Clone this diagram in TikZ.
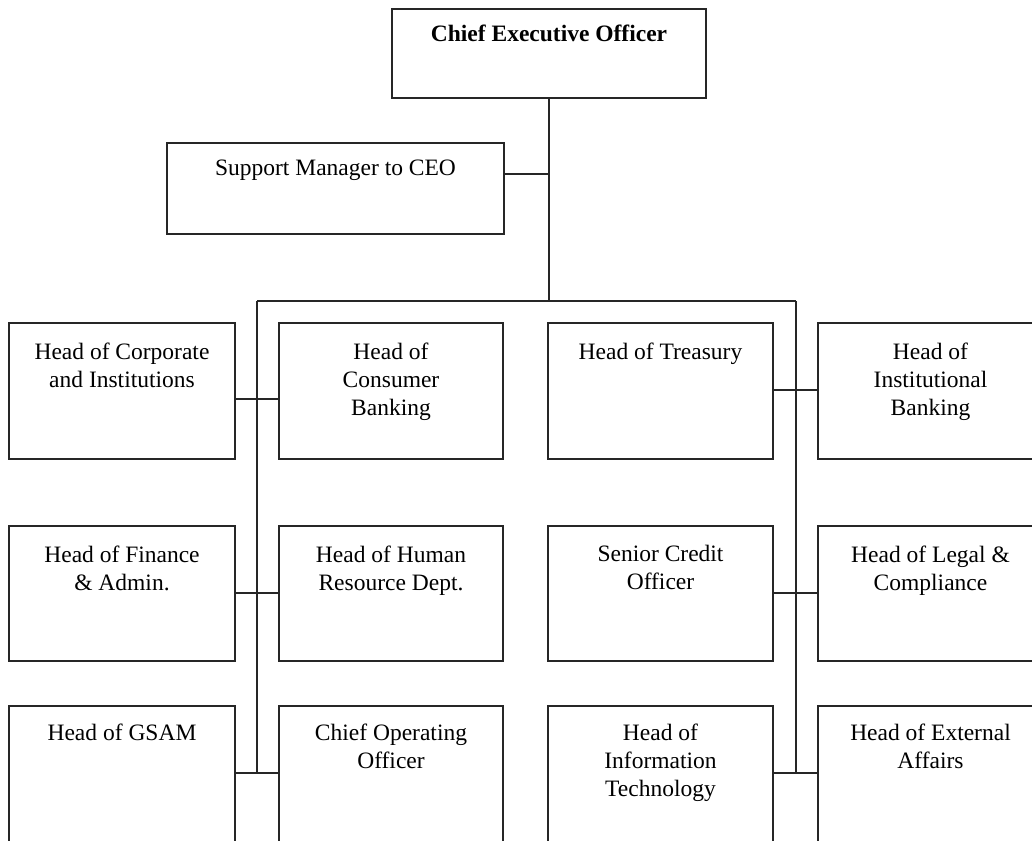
\documentclass[tikz,border=0pt]{standalone}
\usepackage{fontspec}
\setmainfont{Liberation Serif}
\begin{document}
\begin{tikzpicture}[x=1pt,y=-1pt,
  box/.style={draw=black!85, line width=1.4pt, rectangle, inner sep=0pt, fill=white},
  lbl/.style={anchor=north, inner sep=0pt, align=center, font=\fontsize{23.5}{28}\selectfont},
  conn/.style={draw=black!85, line width=1.4pt}]
\useasboundingbox (0,0) rectangle (1032,840);
\clip (0,0) rectangle (1032,840);
\fill[white] (0,0) rectangle (1032,840);

% top boxes
\node[box, minimum width=314pt, minimum height=89pt] (ceo) at (549,53.5) {};
\node[lbl, font=\fontsize{23.5}{28}\selectfont\bfseries] (ceot) at ([yshift=-16pt]ceo.north) {Chief Executive Officer};
\node[box, minimum width=337pt, minimum height=91pt] (sup) at (335.5,188.5) {};
\node[lbl] (supt) at ([yshift=-17pt]sup.north) {Support Manager to CEO};

% row 1
\node[box, minimum width=226pt, minimum height=136pt] (b11) at (122,391) {};
\node[box, minimum width=224pt, minimum height=136pt] (b12) at (391,391) {};
\node[box, minimum width=225pt, minimum height=136pt] (b13) at (660.5,391) {};
\node[box, minimum width=225pt, minimum height=136pt] (b14) at (930.5,391) {};
\node[lbl] (t11) at ([yshift=-20pt]b11.north) {Head of Corporate\\and Institutions};
\node[lbl] (t12) at ([yshift=-20pt]b12.north) {Head of\\Consumer\\Banking};
\node[lbl] (t13) at ([yshift=-20pt]b13.north) {Head of Treasury};
\node[lbl] (t14) at ([yshift=-20pt]b14.north) {Head of\\Institutional\\Banking};

% row 2
\node[box, minimum width=226pt, minimum height=135pt] (b21) at (122,593.5) {};
\node[box, minimum width=224pt, minimum height=135pt] (b22) at (391,593.5) {};
\node[box, minimum width=225pt, minimum height=135pt] (b23) at (660.5,593.5) {};
\node[box, minimum width=225pt, minimum height=135pt] (b24) at (930.5,593.5) {};
\node[lbl] (t21) at ([yshift=-20pt]b21.north) {Head of Finance\\\& Admin.};
\node[lbl] (t22) at ([yshift=-20pt]b22.north) {Head of Human\\Resource Dept.};
\node[lbl] (t23) at ([yshift=-20pt]b23.north) {Senior Credit\\Officer};
\node[lbl] (t24) at ([yshift=-20pt]b24.north) {Head of Legal \&\\Compliance};

% row 3 (runs past the lower edge)
\node[box, minimum width=226pt, minimum height=150pt] (b31) at (122,781) {};
\node[box, minimum width=224pt, minimum height=150pt] (b32) at (391,781) {};
\node[box, minimum width=225pt, minimum height=150pt] (b33) at (660.5,781) {};
\node[box, minimum width=225pt, minimum height=150pt] (b34) at (930.5,781) {};
\node[lbl] (t31) at ([yshift=-18pt]b31.north) {Head of GSAM};
\node[lbl] (t32) at ([yshift=-18pt]b32.north) {Chief Operating\\Officer};
\node[lbl] (t33) at ([yshift=-18pt]b33.north) {Head of\\Information\\Technology};
\node[lbl] (t34) at ([yshift=-18pt]b34.north) {Head of External\\Affairs};

% bus coordinates
\coordinate (busL) at (257,301);
\coordinate (busR) at (796,301);
\coordinate (r1L) at (257,399);
\coordinate (r1R) at (796,390);
\coordinate (r2) at (257,593);
\coordinate (endL) at (257,773);
\coordinate (endR) at (796,773);
\coordinate (supJ) at (549,174);

% connectors
\draw[conn] (ceo.south) -- (ceo.south |- busL);
\draw[conn] (sup.east |- supJ) -- (supJ);
\draw[conn] (busL) -- (busR);
\draw[conn] (busL) -- (endL);
\draw[conn] (busR) -- (endR);

\draw[conn] (b11.east |- r1L) -- (b12.west |- r1L);
\draw[conn] (b13.east |- r1R) -- (b14.west |- r1R);
\draw[conn] (b21.east |- r2) -- (b22.west |- r2);
\draw[conn] (b23.east |- r2) -- (b24.west |- r2);
\draw[conn] (b31.east |- endL) -- (b32.west |- endL);
\draw[conn] (b33.east |- endR) -- (b34.west |- endR);
\end{tikzpicture}
\end{document}
